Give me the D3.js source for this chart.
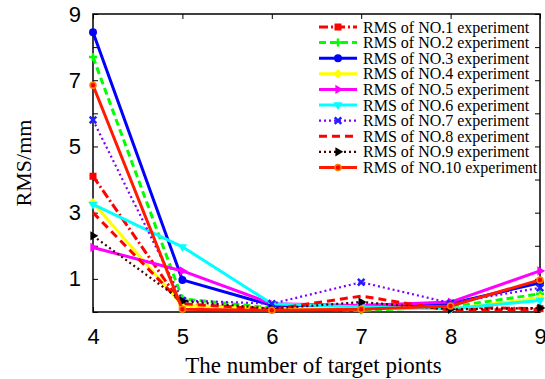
<!DOCTYPE html>
<html>
<head>
<meta charset="utf-8">
<script src="https://cdn.jsdelivr.net/npm/d3@7"></script>
<style>
  body { margin: 0; background: #fff; }
  svg { display: block; font-family: "Liberation Serif", "Times New Roman", serif; }
</style>
</head>
<body>
<div id="wrapper"></div>
<script>
const xValues = [4, 5, 6, 7, 8, 9];
const seriesNames = [
  "RMS of NO.1 experiment", "RMS of NO.2 experiment", "RMS of NO.3 experiment",
  "RMS of NO.4 experiment", "RMS of NO.5 experiment", "RMS of NO.6 experiment",
  "RMS of NO.7 experiment", "RMS of NO.8 experiment", "RMS of NO.9 experiment",
  "RMS of NO.10 experiment"
];
const rms1 = [4.1, 0.2, 0.1, 0.1, 0.15, 0.1];
const rms2 = [7.7, 0.4, 0.12, 0.05, 0.15, 0.55];
const rms3 = [8.45, 0.97, 0.2, 0.2, 0.25, 0.88];
const rms4 = [3.3, 0.2, 0.1, 0.12, 0.1, 0.42];
const rms5 = [1.95, 1.24, 0.25, 0.2, 0.3, 1.24];
const rms6 = [3.25, 1.97, 0.25, 0.15, 0.1, 0.35];
const rms7 = [5.8, 0.35, 0.25, 0.9, 0.27, 0.73];
const rms8 = [3.0, 0.25, 0.08, 0.48, 0.05, 0.08];
const rms9 = [2.3, 0.33, 0.1, 0.3, 0.08, 0.12];
const rms10 = [6.85, 0.08, 0.05, 0.08, 0.18, 0.97];
const yTicks = [0, 1, 2, 3, 4, 5, 6, 7, 8, 9];
const yLabels = [1, 3, 5, 7, 9];

const allSeries = [rms1, rms2, rms3, rms4, rms5, rms6, rms7, rms8, rms9, rms10];

// line + marker styles per series
const styles = [
  {color: "#ff0000", dash: "9,3,2,3", width: 3, marker: "square", mfill: "#ff0000", mstroke: "#ff0000"},
  {color: "#00ff00", dash: "7,4", width: 3, marker: "plus", mfill: "none", mstroke: "#00ff00"},
  {color: "#0000ff", dash: null, width: 3, marker: "circle", mfill: "#0000ff", mstroke: "#0000ff"},
  {color: "#ffff00", dash: null, width: 3, marker: "diamond", mfill: "#ffff00", mstroke: "#ffff00"},
  {color: "#ff00ff", dash: null, width: 3, marker: "right", mfill: "#ff00ff", mstroke: "#ff00ff"},
  {color: "#00ffff", dash: null, width: 3, marker: "down", mfill: "#00ffff", mstroke: "#00ffff"},
  {color: "#7f00ff", dash: "2,3", width: 2.2, marker: "x", mfill: "none", mstroke: "#2020ff"},
  {color: "#ff0000", dash: "8,5", width: 3, marker: null},
  {color: "#400000", dash: "2,3", width: 2.2, marker: "right", mfill: "#000000", mstroke: "#000000"},
  {color: "#ff1a00", dash: null, width: 3, marker: "ring", mfill: "#ff0000", mstroke: "#ff8000"}
];

const width = 545, height = 379;
const margin = {left: 93, right: 5, top: 14, bottom: 67};

const svg = d3.select("#wrapper").append("svg")
  .attr("width", width).attr("height", height);

const x = d3.scaleLinear().domain([4, 9]).range([margin.left, width - margin.right]);
const y = d3.scaleLinear().domain([0, 9]).range([height - margin.bottom, margin.top]);

// frame
svg.append("rect")
  .attr("x", x(4)).attr("y", y(9))
  .attr("width", x(9) - x(4)).attr("height", y(0) - y(9))
  .attr("fill", "none").attr("stroke", "#000").attr("stroke-width", 1.5);

// axes with inward ticks
const xAxis = d3.axisBottom(x).tickValues(xValues).tickSize(-5).tickPadding(16).tickFormat(d3.format("d"));
const gx = svg.append("g").attr("transform", `translate(0,${y(0)})`).call(xAxis);
gx.select(".domain").remove();
gx.selectAll("text").style("font-size", "22px").attr("dy", "0.71em").attr("fill", "#000");

const gxTop = svg.append("g").attr("transform", `translate(0,${y(9)})`)
  .call(d3.axisTop(x).tickValues(xValues).tickSize(-5).tickFormat(""));
gxTop.select(".domain").remove();

const yAxis = d3.axisLeft(y).tickValues(yTicks).tickSize(-5).tickPadding(12)
  .tickFormat(d => yLabels.includes(d) ? d : "");
const gy = svg.append("g").attr("transform", `translate(${x(4)},0)`).call(yAxis);
gy.select(".domain").remove();
gy.selectAll("text").style("font-size", "22px").attr("fill", "#000");

const gyRight = svg.append("g").attr("transform", `translate(${x(9)},0)`)
  .call(d3.axisRight(y).tickValues(yTicks).tickSize(-5).tickFormat(""));
gyRight.select(".domain").remove();

// axis titles
svg.append("text")
  .attr("x", (x(4) + x(9)) / 2 - 3)
  .attr("y", 373)
  .attr("text-anchor", "middle")
  .style("font-size", "23px")
  .text("The number of target pionts");

svg.append("text")
  .attr("text-anchor", "middle")
  .attr("transform", `translate(31,${(y(0) + y(9)) / 2}) rotate(-90)`)
  .style("font-size", "22px")
  .text("RMS/mm");

// marker drawing
function drawMarker(g, type, st, cx, cy) {
  if (!type) return;
  if (type === "square") {
    g.append("rect").attr("x", cx - 3.5).attr("y", cy - 3.5).attr("width", 7).attr("height", 7)
      .attr("fill", st.mfill);
  } else if (type === "plus") {
    g.append("path").attr("d", `M${cx - 4},${cy}H${cx + 4}M${cx},${cy - 4}V${cy + 4}`)
      .attr("stroke", st.mstroke).attr("stroke-width", 2.5).attr("fill", "none");
  } else if (type === "circle") {
    g.append("circle").attr("cx", cx).attr("cy", cy).attr("r", 4).attr("fill", st.mfill);
  } else if (type === "ring") {
    g.append("circle").attr("cx", cx).attr("cy", cy).attr("r", 3)
      .attr("fill", st.mfill).attr("stroke", st.mstroke).attr("stroke-width", 1.5);
  } else if (type === "diamond") {
    g.append("path").attr("d", d3.symbol(d3.symbolDiamond2, 60)())
      .attr("transform", `translate(${cx},${cy})`).attr("fill", st.mfill);
  } else if (type === "right") {
    g.append("path").attr("d", d3.symbol(d3.symbolTriangle2, 60)())
      .attr("transform", `translate(${cx},${cy}) rotate(90)`).attr("fill", st.mfill);
  } else if (type === "down") {
    g.append("path").attr("d", d3.symbol(d3.symbolTriangle2, 60)())
      .attr("transform", `translate(${cx},${cy}) rotate(180)`).attr("fill", st.mfill);
  } else if (type === "x") {
    g.append("path").attr("d", d3.symbol(d3.symbolTimes, 30)())
      .attr("transform", `translate(${cx},${cy})`)
      .attr("stroke", st.mstroke).attr("stroke-width", 2.5).attr("fill", "none");
  }
}

const line = d3.line().x((d, i) => x(xValues[i])).y(d => y(d));

allSeries.forEach((vals, k) => {
  const st = styles[k];
  const g = svg.append("g");
  g.append("path")
    .attr("d", line(vals))
    .attr("fill", "none")
    .attr("stroke", st.color)
    .attr("stroke-width", st.width)
    .attr("stroke-dasharray", st.dash)
    .attr("stroke-linejoin", "round");
  vals.forEach((v, i) => drawMarker(g, st.marker, st, x(xValues[i]), y(v)));
});

// legend
const legend = svg.append("g");
seriesNames.forEach((name, k) => {
  const st = styles[k];
  const ly = 27 + k * 15.6;
  const row = legend.append("g");
  row.append("line")
    .attr("x1", 319).attr("x2", 357).attr("y1", ly).attr("y2", ly)
    .attr("stroke", st.color).attr("stroke-width", st.width)
    .attr("stroke-dasharray", st.dash);
  drawMarker(row, st.marker, st, 338, ly);
  row.append("text")
    .attr("x", 363).attr("y", ly + 5.5)
    .style("font-size", "16px")
    .text(name);
});
</script>
</body>
</html>
